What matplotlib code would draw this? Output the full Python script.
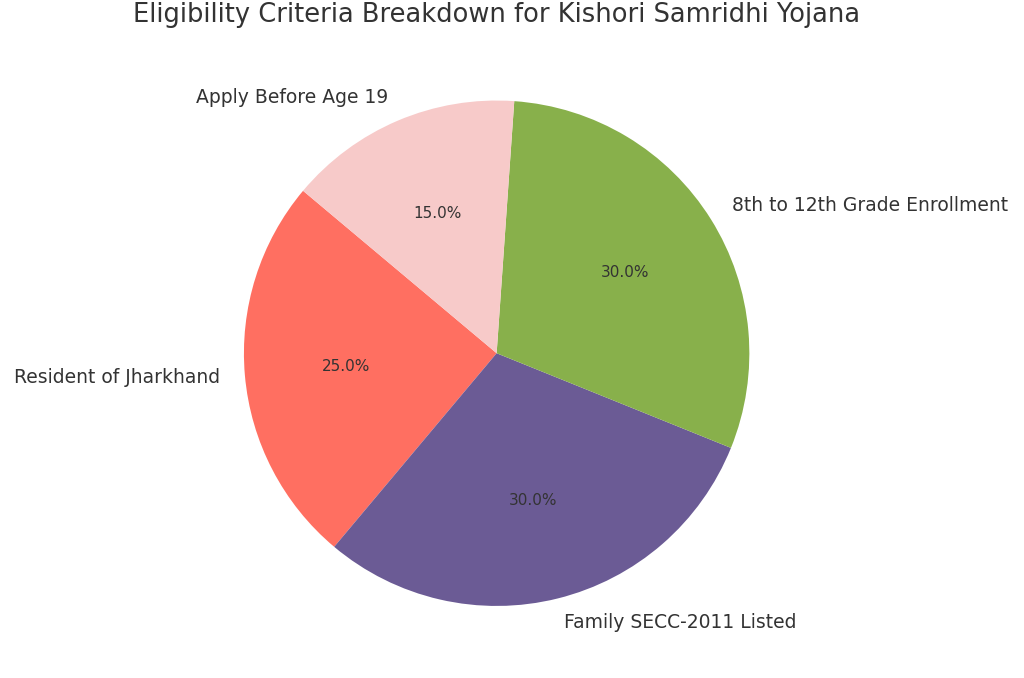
import matplotlib.pyplot as plt

# donnees du graphique
labels = ["Resident of Jharkhand", "Family SECC-2011 Listed",
          "8th to 12th Grade Enrollment", "Apply Before Age 19"]
shares = [25, 30, 30, 15]
colors = ["#ff6f61", "#6b5b95", "#88b04b", "#f7cac9"]

fig, ax = plt.subplots(figsize=(10.24, 6.78), dpi=100)
fig.subplots_adjust(left=0.05, right=0.92, top=0.889, bottom=0.069)

wedges, texts, autotexts = ax.pie(shares, labels=labels, colors=colors,
                                  autopct="%1.1f%%", startangle=140,
                                  textprops={"color": "#333333"})
for t in texts:
    t.set_fontsize(13.5)
for t in autotexts:
    t.set_fontsize(11)
ax.axis("equal")
ax.set_title("Eligibility Criteria Breakdown for Kishori Samridhi Yojana",
             fontsize=18.5, color="#333333", pad=38)

fig.savefig("out.png", dpi=100)
